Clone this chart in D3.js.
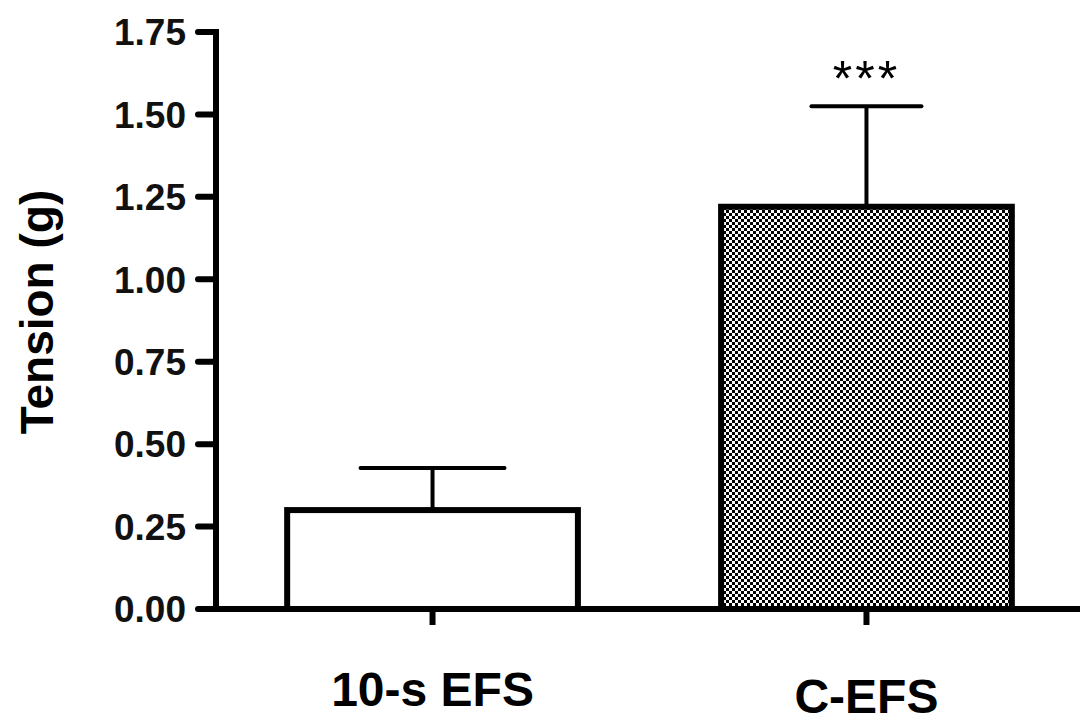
<!DOCTYPE html>
<html>
<head>
<meta charset="utf-8">
<script src="https://cdn.jsdelivr.net/npm/d3@7"></script>
<style>
  body { margin: 0; background: #fff; }
  svg text { font-family: "Liberation Sans", Arial, sans-serif; }
</style>
</head>
<body>
<div id="chart"></div>
<script>
const groups = ['10-s EFS', 'C-EFS']
const means = [0.30, 1.22]
const errors = [0.128, 0.305]
const marks = ['', '***']
const yTicks = [0, 0.25, 0.5, 0.75, 1.0, 1.25, 1.5, 1.75]

const width = 1080, height = 724

const svg = d3.select('#chart').append('svg')
    .attr('width', width)
    .attr('height', height)

// checker fill for the second bar
const defs = svg.append('defs')
const pat = defs.append('pattern')
    .attr('id', 'checker')
    .attr('width', 6).attr('height', 6)
    .attr('patternUnits', 'userSpaceOnUse')
pat.append('rect').attr('width', 6).attr('height', 6).attr('fill', '#fff')
pat.append('rect').attr('width', 3).attr('height', 3).attr('fill', '#000')
pat.append('rect').attr('x', 3).attr('y', 3).attr('width', 3).attr('height', 3).attr('fill', '#000')

const y = d3.scaleLinear()
    .domain([0, 1.75])
    .range([609, 32])

const x = d3.scaleBand()
    .domain(groups)
    .range([216, 1083])
    .paddingInner(0.33)
    .paddingOuter(0.164)

// bars
const bars = svg.selectAll('.bar')
    .data(groups)
    .enter().append('g')
    .attr('class', 'bar')

bars.append('rect')
    .attr('x', d => x(d))
    .attr('y', (d, i) => y(means[i]))
    .attr('width', x.bandwidth())
    .attr('height', (d, i) => y(0) - y(means[i]))
    .attr('fill', (d, i) => i === 1 ? 'url(#checker)' : '#fff')
    .attr('stroke', '#000')
    .attr('stroke-width', 6)

// error bars (upper only)
bars.append('line')
    .attr('x1', d => x(d) + x.bandwidth() / 2)
    .attr('x2', d => x(d) + x.bandwidth() / 2)
    .attr('y1', (d, i) => y(means[i]))
    .attr('y2', (d, i) => y(means[i] + errors[i]))
    .attr('stroke', '#000')
    .attr('stroke-width', 4)

bars.append('line')
    .attr('x1', (d, i) => x(d) + x.bandwidth() / 2 - (i === 0 ? 72 : 55))
    .attr('x2', (d, i) => x(d) + x.bandwidth() / 2 + (i === 0 ? 72 : 55))
    .attr('y1', (d, i) => y(means[i] + errors[i]))
    .attr('y2', (d, i) => y(means[i] + errors[i]))
    .attr('stroke', '#000')
    .attr('stroke-width', 4)
    .attr('stroke-linecap', 'round')

bars.append('text')
    .attr('x', d => x(d) + x.bandwidth() / 2)
    .attr('y', (d, i) => y(means[i] + errors[i]) - 10)
    .attr('text-anchor', 'middle')
    .attr('font-size', 50)
    .attr('letter-spacing', 3)
    .text((d, i) => marks[i])

// y axis
const yAxis = svg.append('g')
yAxis.append('line')
    .attr('x1', 216).attr('x2', 216)
    .attr('y1', y(1.75) - 3).attr('y2', y(0) + 3)
    .attr('stroke', '#000').attr('stroke-width', 6)

const yt = yAxis.selectAll('.ytick')
    .data(yTicks)
    .enter().append('g')
    .attr('transform', d => `translate(0,${y(d)})`)

yt.append('line')
    .attr('x1', 198).attr('x2', 216)
    .attr('stroke', '#000').attr('stroke-width', 6)
    .attr('stroke-linecap', 'round')

yt.append('text')
    .attr('x', 186)
    .attr('dy', '0.36em')
    .attr('text-anchor', 'end')
    .attr('font-size', 37)
    .attr('font-weight', 'bold')
    .attr('fill', '#111')
    .text(d => d.toFixed(2))

// x axis
svg.append('line')
    .attr('x1', 198).attr('x2', 1080)
    .attr('y1', y(0)).attr('y2', y(0))
    .attr('stroke', '#000').attr('stroke-width', 6)

svg.selectAll('.xtick')
    .data(groups)
    .enter().append('line')
    .attr('x1', d => x(d) + x.bandwidth() / 2)
    .attr('x2', d => x(d) + x.bandwidth() / 2)
    .attr('y1', y(0)).attr('y2', y(0) + 16)
    .attr('stroke', '#000').attr('stroke-width', 6)

svg.selectAll('.xlabel')
    .data(groups)
    .enter().append('text')
    .attr('x', d => x(d) + x.bandwidth() / 2)
    .attr('y', (d, i) => i === 0 ? 706 : 713)
    .attr('text-anchor', 'middle')
    .attr('font-size', 48)
    .attr('font-weight', 'bold')
    .text(d => d)

// y title
svg.append('text')
    .attr('transform', 'translate(53,312) rotate(-90)')
    .attr('text-anchor', 'middle')
    .attr('font-size', 46)
    .attr('font-weight', 'bold')
    .text('Tension (g)')
</script>
</body>
</html>
